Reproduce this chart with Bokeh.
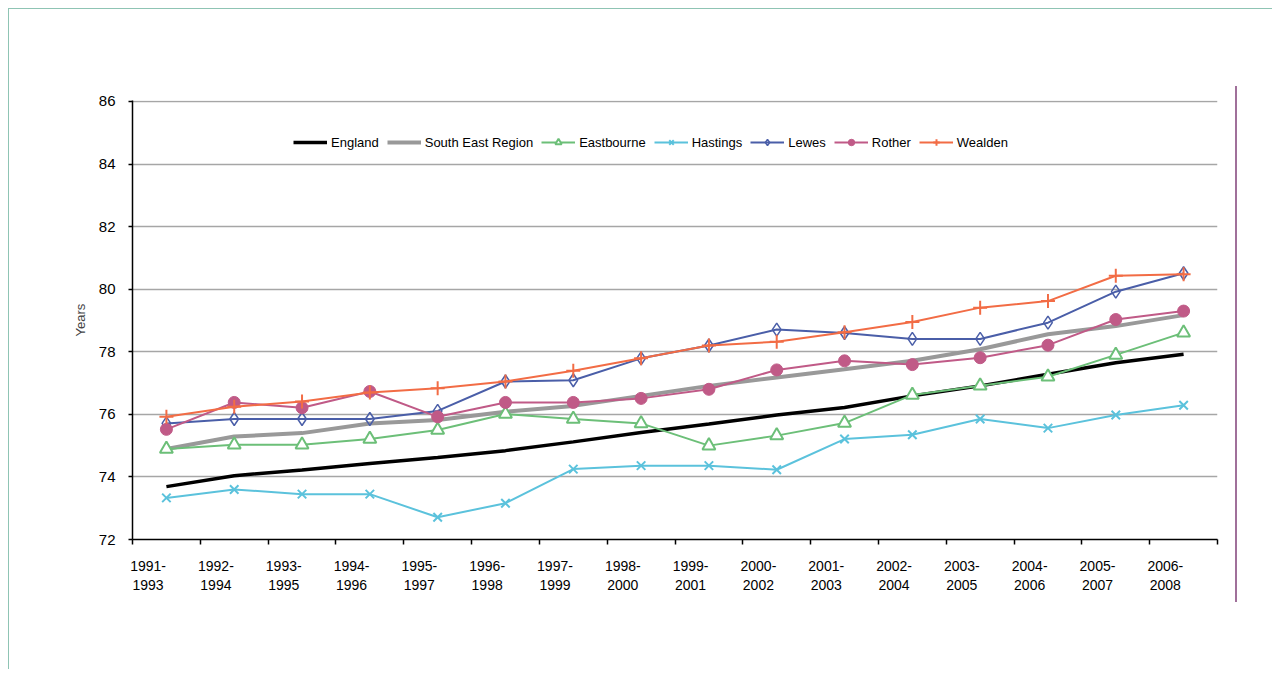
from bokeh.plotting import figure
from bokeh.models import FixedTicker, Range1d, Legend, LegendItem
from bokeh.embed import file_html
from bokeh.resources import INLINE

categories = ["1991-1993", "1992-1994", "1993-1995", "1994-1996", "1995-1997",
              "1996-1998", "1997-1999", "1998-2000", "1999-2001", "2000-2002",
              "2001-2003", "2002-2004", "2003-2005", "2004-2006", "2005-2007",
              "2006-2008"]
england = [73.69, 74.04, 74.22, 74.43, 74.62, 74.84, 75.12, 75.42, 75.69, 75.98,
           76.22, 76.59, 76.91, 77.28, 77.65, 77.92]
south_east = [74.89, 75.29, 75.40, 75.71, 75.82, 76.08, 76.27, 76.59, 76.91, 77.18,
              77.44, 77.71, 78.08, 78.56, 78.82, 79.17]
eastbourne = [74.89, 75.03, 75.03, 75.21, 75.50, 76.01, 75.85, 75.71, 75.00, 75.32,
              75.72, 76.62, 76.91, 77.20, 77.90, 78.61]
hastings = [73.33, 73.60, 73.45, 73.45, 72.71, 73.16, 74.25, 74.36, 74.36, 74.23,
            75.21, 75.35, 75.85, 75.56, 75.98, 76.29]
lewes = [75.71, 75.85, 75.85, 75.85, 76.11, 77.05, 77.09, 77.79, 78.20, 78.71,
         78.60, 78.41, 78.41, 78.93, 79.92, 80.51]
rother = [75.52, 76.38, 76.21, 76.73, 75.92, 76.38, 76.38, 76.51, 76.80, 77.42,
          77.71, 77.59, 77.81, 78.21, 79.03, 79.30]
wealden = [75.92, 76.24, 76.41, 76.70, 76.83, 77.05, 77.39, 77.79, 78.20, 78.32,
           78.62, 78.95, 79.41, 79.62, 80.43, 80.48]
y_ticks = [72, 74, 76, 78, 80, 82, 84, 86]

FONT = "Liberation Sans"
n = len(categories)
xs = [i + 0.5 for i in range(n)]
label_pos = [i + 0.23 for i in range(n)]

p = figure(width=1264, height=661, output_backend="svg", toolbar_location=None,
           x_range=Range1d(0, n), y_range=Range1d(72, 86.03),
           min_border_left=123, min_border_right=56, min_border_top=91,
           min_border_bottom=131)
p.outline_line_color = None
p.background_fill_color = "white"
p.border_fill_color = None
p.styles = {
    "margin": "8px 0 0 8px",
    "border-left": "1px solid #8fc4b4",
    "border-top": "1px solid #8fc4b4",
    "background-color": "white",
    "background-image": "linear-gradient(#a0709a, #a0709a)",
    "background-size": "2px 516px",
    "background-position": "1226px 77px",
    "background-repeat": "no-repeat",
}

# axes
p.xaxis.ticker = FixedTicker(ticks=label_pos, minor_ticks=list(range(n + 1)))
p.xaxis.major_label_overrides = {x: c.replace("-", "-\n") for x, c in zip(label_pos, categories)}
p.xaxis.major_tick_out = 0
p.xaxis.major_tick_in = 0
p.xaxis.minor_tick_out = 5
p.xaxis.minor_tick_in = 0
p.xaxis.minor_tick_line_color = "black"
p.xaxis.minor_tick_line_width = 1.5
p.xaxis.axis_line_width = 1.5
p.xaxis.axis_line_color = "black"
p.xaxis.major_label_standoff = 13
p.xaxis.major_label_text_font = FONT
p.xaxis.major_label_text_font_size = "14px"
p.xaxis.major_label_text_color = "black"

p.yaxis.ticker = FixedTicker(ticks=y_ticks, minor_ticks=[])
p.yaxis.major_tick_out = 4
p.yaxis.major_tick_in = 0
p.yaxis.major_tick_line_width = 1.5
p.yaxis.axis_line_width = 1.5
p.yaxis.axis_line_color = "black"
p.yaxis.major_label_standoff = 13
p.yaxis.major_label_text_font = FONT
p.yaxis.major_label_text_font_size = "15px"
p.yaxis.major_label_text_color = "black"
p.yaxis.axis_label = "Years"
p.yaxis.axis_label_text_font = FONT
p.yaxis.axis_label_text_font_size = "13px"
p.yaxis.axis_label_text_font_style = "normal"
p.yaxis.axis_label_standoff = 8

p.xgrid.grid_line_color = None
p.ygrid.ticker = FixedTicker(ticks=y_ticks[1:])
p.ygrid.grid_line_color = "#a6a6a6"
p.ygrid.grid_line_width = 1.5

items = []

r = p.line(xs, england, line_color="black", line_width=3.5)
items.append(LegendItem(label="England", renderers=[r]))

r = p.line(xs, south_east, line_color="#999999", line_width=4)
items.append(LegendItem(label="South East Region", renderers=[r]))

c = "#6cbf78"
r1 = p.line(xs, eastbourne, line_color=c, line_width=2)
r2 = p.scatter(xs, eastbourne, marker="triangle", size=13, fill_color="white",
               line_color=c, line_width=2)
items.append(LegendItem(label="Eastbourne", renderers=[r1, r2]))

c = "#5bc2dc"
r1 = p.line(xs, hastings, line_color=c, line_width=2)
r2 = p.scatter(xs, hastings, marker="x", size=12, line_color=c, line_width=2)
items.append(LegendItem(label="Hastings", renderers=[r1, r2]))

c = "#4a5ea8"
r1 = p.line(xs, lewes, line_color=c, line_width=2)
r2 = p.scatter(xs, lewes, marker="diamond", size=13, fill_color="white",
               fill_alpha=0, line_color=c, line_width=1.5)
items.append(LegendItem(label="Lewes", renderers=[r1, r2]))

c = "#c05a87"
r1 = p.line(xs, rother, line_color=c, line_width=2)
r2 = p.scatter(xs, rother, marker="circle", size=12, fill_color=c, line_color=c)
items.append(LegendItem(label="Rother", renderers=[r1, r2]))

c = "#f26c45"
r1 = p.line(xs, wealden, line_color=c, line_width=2)
r2 = p.scatter(xs, wealden, marker="cross", size=14, line_color=c, line_width=2)
items.append(LegendItem(label="Wealden", renderers=[r1, r2]))

legend = Legend(items=items, orientation="horizontal", location=(161, 380),
                glyph_width=34, glyph_height=16, label_height=34,
                label_standoff=4, spacing=8,
                padding=6, margin=0, border_line_color=None,
                background_fill_color="white", background_fill_alpha=1,
                label_text_font=FONT, label_text_font_size="13px",
                label_text_color="black")
p.add_layout(legend, "center")

open("out.html", "w").write(file_html(p, INLINE))
